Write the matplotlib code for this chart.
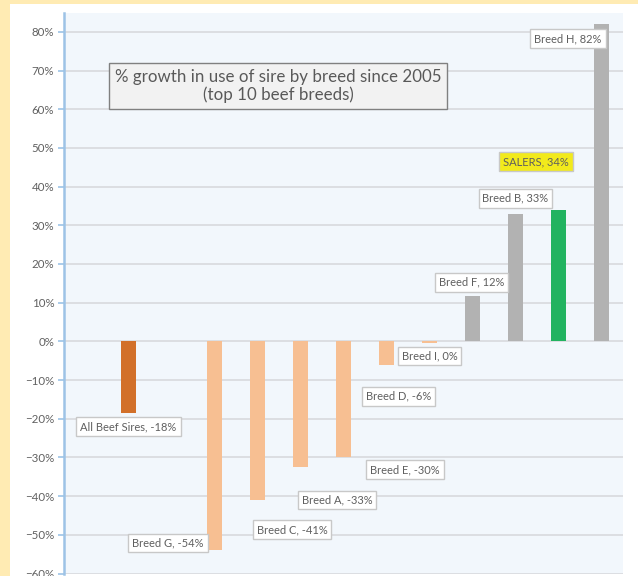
import matplotlib.pyplot as plt
from matplotlib.patches import Rectangle
from matplotlib.ticker import PercentFormatter

# data
breeds = ['All Beef Sires', 'Breed G', 'Breed C', 'Breed A', 'Breed E', 'Breed D',
          'Breed I', 'Breed F', 'Breed B', 'SALERS', 'Breed H']
growth = [-18.4, -54, -41, -32.5, -30, -6, -0.4, 11.8, 33, 34, 82]
shown = ['-18%', '-54%', '-41%', '-33%', '-30%', '-6%', '0%', '12%', '33%', '34%', '82%']
slots = [1, 3, 4, 5, 6, 7, 8, 9, 10, 11, 12]

colors = ['#D2702A'] + ['#F7BF92'] * 6 + ['#B2B2B2'] * 2 + ['#22B360', '#B2B2B2']
# label placement: (x offset from bar, y in data units)
label_pos = [(0, -22.0), (-1.08, -52.1), (0.80, -48.7), (0.85, -41.0), (1.43, -33.2),
             (0.29, -14.2), (0.0, -3.8), (-0.03, 15.3), (0.0, 37.0), (-0.52, 46.4),
             (-0.78, 78.2)]

plt.rcParams['font.family'] = ['Lato', 'DejaVu Sans']

W, H = 638, 576
fig = plt.figure(figsize=(W / 100, H / 100), dpi=100, facecolor='#FFEBB3')
fig.patches.append(Rectangle((10 / W, 0), 1 - 10 / W, 1 - 4 / H, transform=fig.transFigure,
                             facecolor='white', edgecolor='none', zorder=-10))

ax = fig.add_axes([64 / W, 2.5 / H, 559 / W, 561 / H])
ax.set_facecolor('#F2F7FC')

ax.bar(slots, growth, width=0.33, color=colors, zorder=3)

ax.set_xlim(-0.5, 12.5)
ax.set_ylim(-60, 85)
ax.set_yticks(range(-60, 81, 10))
ax.yaxis.set_major_formatter(PercentFormatter(100, 0))
ax.set_xticks([])
ax.grid(axis='y', color='#DCDEE2', linewidth=1.4, zorder=1)
ax.tick_params(axis='y', colors='#9DC3E6', labelcolor='#606060', labelsize=8.3,
               length=4, width=1.2, pad=3)
for side in ['top', 'right', 'bottom']:
    ax.spines[side].set_visible(False)
ax.spines['left'].set_color('#9DC3E6')
ax.spines['left'].set_linewidth(1.8)
ax.spines['left'].set_bounds(-60, 85)

for name, val, txt, x, (dx, ly) in zip(breeds, growth, shown, slots, label_pos):
    face = '#F2EA1C' if name == 'SALERS' else 'white'
    ax.text(x + dx, ly, f'{name}, {txt}', ha='center', va='center', fontsize=8,
            color='#5F5F5F', zorder=5,
            bbox=dict(boxstyle='square,pad=0.35', facecolor=face, edgecolor='#C8C8C8',
                      linewidth=1))

ax.text(0.383, 0.869, '% growth in use of sire by breed since 2005\n(top 10 beef breeds)',
        transform=ax.transAxes, ha='center', va='center', fontsize=12.2,
        color='#595959', linespacing=1.15, zorder=5,
        bbox=dict(boxstyle='square,pad=0.35', facecolor='#F2F2F2', edgecolor='#808080',
                  linewidth=1))

fig.savefig('out.png', dpi=100, facecolor=fig.get_facecolor())
